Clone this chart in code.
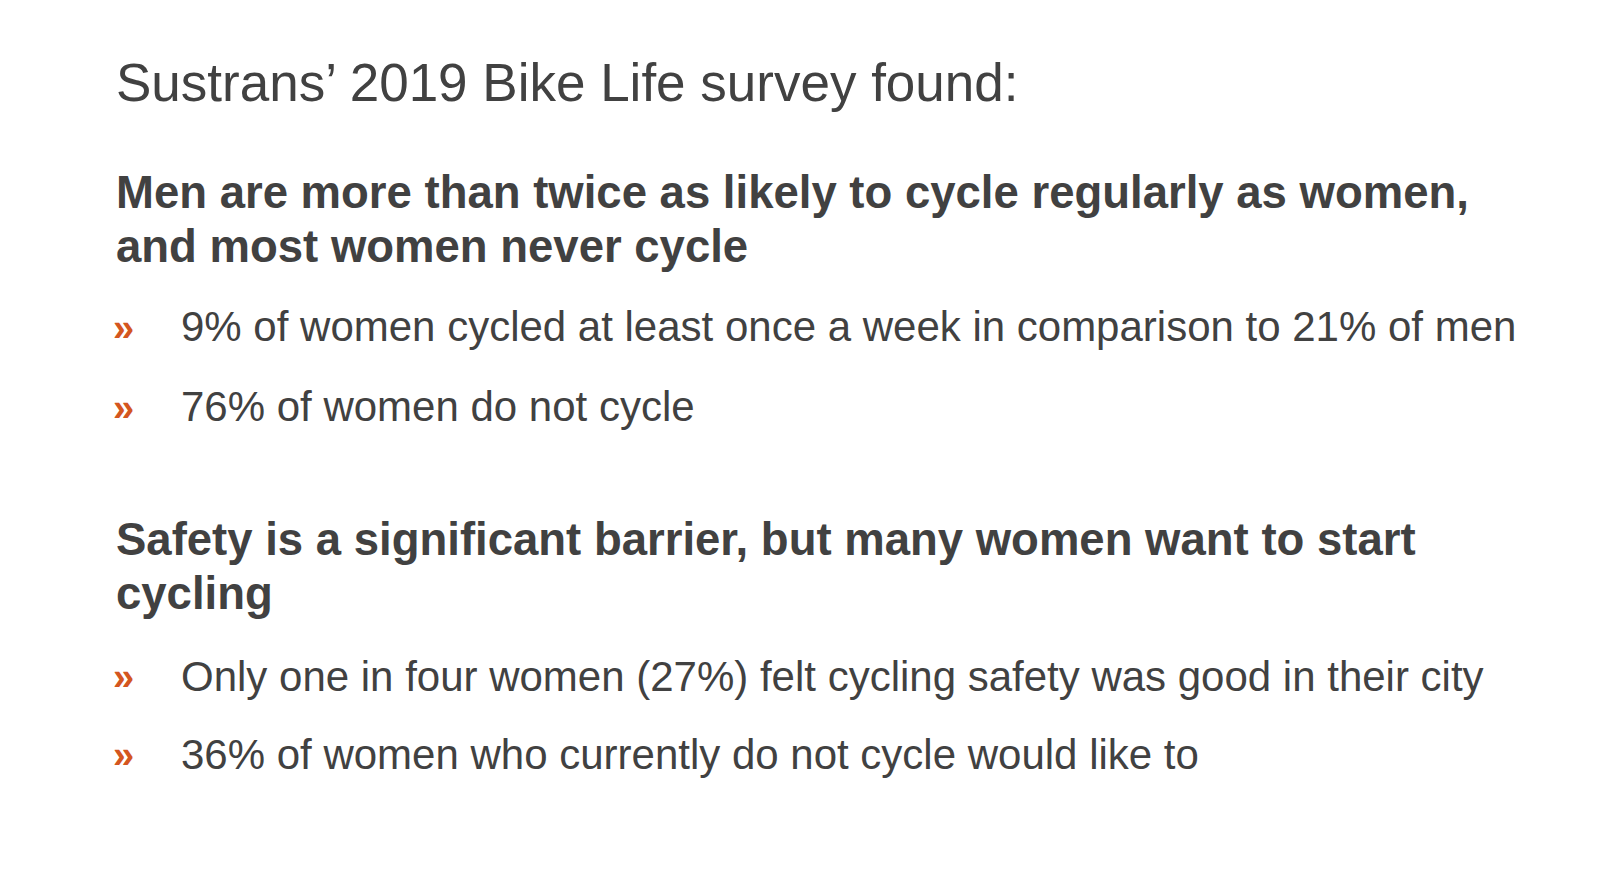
<!DOCTYPE html>
<html>
<head>
<meta charset="utf-8">
<script src="https://cdn.jsdelivr.net/npm/chart.js@4"></script>
<style>
  html, body { margin:0; padding:0; background:#ffffff; }
  #slide { position:relative; width:1604px; height:874px; overflow:hidden;
           font-family:"Liberation Sans", Arial, Helvetica, sans-serif; color:#414141; }
  .t { position:absolute; white-space:nowrap; line-height:1; }
  .title { font-size:53px; }
  .head { font-size:45.5px; font-weight:bold; }
  .bul { font-size:42px; }
  .mark { color:#d4561f; font-weight:bold; font-size:38px; }
</style>
</head>
<body>
<div id="slide"></div>
<script>
// ----------------- TEXTOS -----------------
const titulo = "Sustrans\u2019 2019 Bike Life survey found:";
const encabezado1 = ["Men are more than twice as likely to cycle regularly as women,", "and most women never cycle"];
const puntos1 = ["9% of women cycled at least once a week in comparison to 21% of men", "76% of women do not cycle"];
const encabezado2 = ["Safety is a significant barrier, but many women want to start", "cycling"];
const puntos2 = ["Only one in four women (27%) felt cycling safety was good in their city", "36% of women who currently do not cycle would like to"];

// ----------------- LAYOUT -----------------
const slide = document.getElementById('slide');
const ASC = 0.8465; // baseline offset for line-height:1 (Liberation Sans)

function texto(txt, cls, x, baseline, size){
  const d = document.createElement('div');
  d.className = 't ' + cls;
  d.textContent = txt;
  d.style.left = x + 'px';
  d.style.top = (baseline - ASC * size) + 'px';
  slide.appendChild(d);
  return d;
}

texto(titulo, 'title', 116, 101, 53);

encabezado1.forEach((l, i) => texto(l, 'head', 116, 209 + i * 54, 45.5));
puntos1.forEach((l, i) => {
  texto('\u00bb', 'mark', 113, 341 + i * 80, 38);
  texto(l, 'bul', 181, 342 + i * 80, 42);
});

encabezado2.forEach((l, i) => texto(l, 'head', 116, 556 + i * 54, 45.5));
puntos2.forEach((l, i) => {
  texto('\u00bb', 'mark', 113, 690 + i * 78, 38);
  texto(l, 'bul', 181, 692 + i * 78, 42);
});
</script>
</body>
</html>
